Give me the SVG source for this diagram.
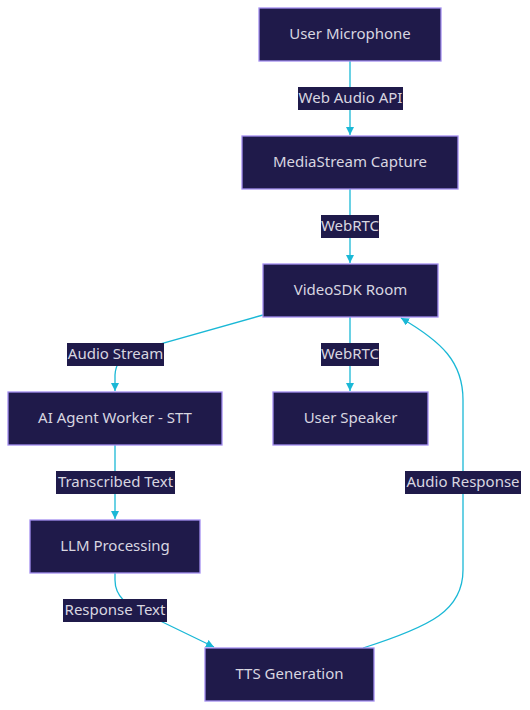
<svg xmlns="http://www.w3.org/2000/svg" width="530" height="710" viewBox="0 0 530 710">
<style>
.node rect{fill:#1f1a4a;stroke:#a48ef0;stroke-width:1.3}
.node text,.lbl text{font-family:"Noto Sans","Open Sans",sans-serif;font-size:15px;fill:#d8d6e0;text-anchor:middle;dominant-baseline:central}
.lbl rect{fill:#1f1a4a}
.edge{fill:none;stroke:#1ab8d6;stroke-width:1.3}
</style>
<defs>
<marker id="ah" viewBox="0 0 10 10" refX="10" refY="5" markerWidth="8" markerHeight="8" markerUnits="userSpaceOnUse" orient="auto">
<path d="M0,0 L10,5 L0,10 z" fill="#1ab8d6"/>
</marker>
</defs>
<rect width="530" height="710" fill="#ffffff"/>
<g id="connectors">
<path class="edge" d="M350,61 L350,135" marker-end="url(#ah)"/>
<path class="edge" d="M350,189 L350,263" marker-end="url(#ah)"/>
<path class="edge" d="M350,317 L350,391" marker-end="url(#ah)"/>
<path class="edge" d="M263,315 L135,351 Q116,357 115,375 L115,391" marker-end="url(#ah)"/>
<path class="edge" d="M115,445 L115,519" marker-end="url(#ah)"/>
<path class="edge" d="M115,573 L115,580 C115,596 126,606 150,616 L214,647" marker-end="url(#ah)"/>
<path class="edge" d="M363,648 C432,626 463,610 463,570 L463,400 C463,362 442,342 401,318" marker-end="url(#ah)"/>
<g class="lbl">
<rect x="298" y="87" width="105" height="23"/><text x="350.5" y="97">Web Audio API</text>
<rect x="321" y="215" width="58" height="23"/><text x="350" y="225">WebRTC</text>
<rect x="321" y="343" width="58" height="23"/><text x="350" y="353">WebRTC</text>
<rect x="67" y="343" width="97" height="23"/><text x="115.5" y="353">Audio Stream</text>
<rect x="56" y="471" width="119" height="23"/><text x="115.5" y="481">Transcribed Text</text>
<rect x="63" y="599" width="104" height="23"/><text x="115" y="609">Response Text</text>
<rect x="405" y="471" width="116" height="23"/><text x="463" y="481">Audio Response</text>
</g>
</g>
<g id="user-mic" class="node"><rect x="259" y="8" width="182" height="53"/><text x="350" y="33">User Microphone</text></g>
<g id="media-capture" class="node"><rect x="242" y="136" width="216" height="53"/><text x="350" y="161">MediaStream Capture</text></g>
<g id="videosdk-room" class="node"><rect x="263" y="264" width="175" height="53"/><text x="350.5" y="289">VideoSDK Room</text></g>
<g id="user-speaker" class="node"><rect x="273" y="392" width="155" height="53"/><text x="350.5" y="417">User Speaker</text></g>
<g id="stt" class="node"><rect x="8" y="392" width="214" height="53"/><text x="115" y="417">AI Agent Worker - STT</text></g>
<g id="llm" class="node"><rect x="30" y="520" width="170" height="53"/><text x="115" y="545">LLM Processing</text></g>
<g id="tts" class="node"><rect x="205" y="648" width="169" height="53"/><text x="289.5" y="673">TTS Generation</text></g>
</svg>
